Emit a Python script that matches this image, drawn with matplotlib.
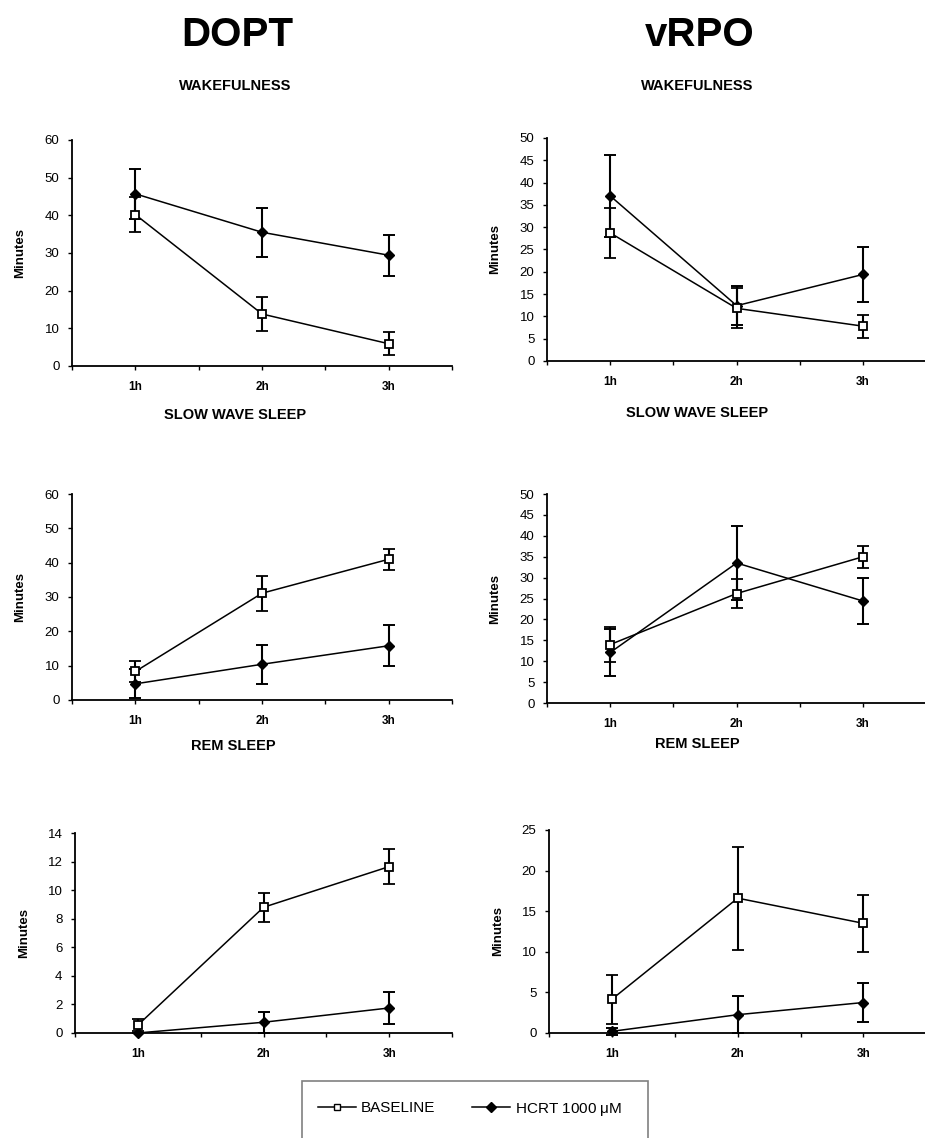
import numpy as np
import matplotlib
matplotlib.use('Agg')
import matplotlib.pyplot as plt
from matplotlib.lines import Line2D
from matplotlib.patches import Rectangle

plt.rcParams['font.family'] = ['Liberation Sans', 'DejaVu Sans']

hours = ['1h', '2h', '3h']

# DOPT
dopt_wake_base = [40.2, 13.8, 5.9]
dopt_wake_base_err = [4.7, 4.6, 3.1]
dopt_wake_hcrt = [45.7, 35.5, 29.4]
dopt_wake_hcrt_err = [6.6, 6.5, 5.4]

dopt_sws_base = [8.3, 31.1, 41.0]
dopt_sws_base_err = [3.1, 5.1, 3.0]
dopt_sws_hcrt = [4.7, 10.4, 15.8]
dopt_sws_hcrt_err = [4.2, 5.7, 6.0]

dopt_rem_base = [0.55, 8.8, 11.65]
dopt_rem_base_err = [0.4, 1.0, 1.25]
dopt_rem_hcrt = [0.0, 0.75, 1.75]
dopt_rem_hcrt_err = [0.0, 0.75, 1.12]

# vRPO
vrpo_wake_base = [28.7, 11.8, 7.8]
vrpo_wake_base_err = [5.7, 4.5, 2.6]
vrpo_wake_hcrt = [37.0, 12.4, 19.4]
vrpo_wake_hcrt_err = [9.1, 4.3, 6.1]

vrpo_sws_base = [14.0, 26.2, 35.0]
vrpo_sws_base_err = [4.1, 3.5, 2.6]
vrpo_sws_hcrt = [12.1, 33.5, 24.4]
vrpo_sws_hcrt_err = [5.7, 8.8, 5.6]

vrpo_rem_base = [4.15, 16.6, 13.5]
vrpo_rem_base_err = [3.0, 6.35, 3.5]
vrpo_rem_hcrt = [0.2, 2.25, 3.75]
vrpo_rem_hcrt_err = [0.45, 2.25, 2.4]

fig = plt.figure(figsize=(9.25, 11.38), dpi=100)

x = np.arange(1, len(hours) + 1)


def panel(rect, base, base_err, hcrt, hcrt_err, ymax, ystep):
    ax = fig.add_axes(rect)
    ax.errorbar(x, hcrt, yerr=hcrt_err, color='black', lw=1.1, elinewidth=1.5,
                capsize=4.5, capthick=1.4, marker='D', ms=5.5, mfc='black',
                mec='black', clip_on=False, zorder=3)
    ax.errorbar(x, base, yerr=base_err, color='black', lw=1.1, elinewidth=1.5,
                capsize=4.5, capthick=1.4, marker='s', ms=6, mfc='white',
                mec='black', mew=1.3, clip_on=False, zorder=4)
    ax.set_xlim(0.5, 3.5)
    ax.set_ylim(0, ymax)
    ax.set_yticks(np.arange(0, ymax + ystep / 2, ystep))
    ax.set_xticks(np.arange(0.5, 3.6, 0.5))
    ax.set_xticklabels(['', hours[0], '', hours[1], '', hours[2], ''],
                       fontsize=8.5, fontweight='bold')
    ax.tick_params(axis='y', labelsize=9.5, length=3, width=1, pad=6)
    ax.tick_params(axis='x', length=3, width=1, pad=8)
    for s in ['top', 'right']:
        ax.spines[s].set_visible(False)
    for s in ['left', 'bottom']:
        ax.spines[s].set_linewidth(1.3)
    ax.set_ylabel('Minutes', fontsize=9.5, fontweight='bold')
    ax.yaxis.set_label_coords(-0.12, 0.5)
    return ax


panel([0.0778, 0.6784, 0.411, 0.1986], dopt_wake_base, dopt_wake_base_err,
      dopt_wake_hcrt, dopt_wake_hcrt_err, 60, 10)
panel([0.5914, 0.6828, 0.41, 0.196], vrpo_wake_base, vrpo_wake_base_err,
      vrpo_wake_hcrt, vrpo_wake_hcrt_err, 50, 5)
panel([0.0778, 0.3849, 0.411, 0.1810], dopt_sws_base, dopt_sws_base_err,
      dopt_sws_hcrt, dopt_sws_hcrt_err, 60, 10)
panel([0.5914, 0.3822, 0.41, 0.1837], vrpo_sws_base, vrpo_sws_base_err,
      vrpo_sws_hcrt, vrpo_sws_hcrt_err, 50, 5)
panel([0.0811, 0.0923, 0.4076, 0.1757], dopt_rem_base, dopt_rem_base_err,
      dopt_rem_hcrt, dopt_rem_hcrt_err, 14, 2)
panel([0.5935, 0.0923, 0.408, 0.1784], vrpo_rem_base, vrpo_rem_base_err,
      vrpo_rem_hcrt, vrpo_rem_hcrt_err, 25, 5)

W, H = 925.0, 1138.0
big = dict(fontsize=29, fontweight='bold', ha='center', va='center')
fig.text(237 / W, 1 - 35 / H, 'DOPT', **big)
fig.text(700 / W, 1 - 35 / H, 'vRPO', **big)

sub = dict(fontsize=10.5, fontweight='bold', ha='center', va='center')
fig.text(235 / W, 1 - 86 / H, 'WAKEFULNESS', **sub)
fig.text(697 / W, 1 - 86 / H, 'WAKEFULNESS', **sub)
fig.text(235 / W, 1 - 415 / H, 'SLOW WAVE SLEEP', **sub)
fig.text(697 / W, 1 - 413 / H, 'SLOW WAVE SLEEP', **sub)
fig.text(233 / W, 1 - 746 / H, 'REM SLEEP', **sub)
fig.text(697 / W, 1 - 744 / H, 'REM SLEEP', **sub)

# legend box
fig.patches.append(Rectangle((302 / W, -0.01), (648 - 302) / W, 0.01 + 1 - 1081 / H,
                             transform=fig.transFigure, fill=False,
                             edgecolor='#808080', lw=1.2))
handles = [
    Line2D([], [], color='black', lw=1.1, marker='s', ms=5, mfc='white', mec='black'),
    Line2D([], [], color='black', lw=1.1, marker='D', ms=5, mfc='black', mec='black'),
]
fig.legend(handles, ['BASELINE', 'HCRT 1000 $\\mathregular{\\mu}$M'],
           loc='center left', bbox_to_anchor=(318 / W, 1 - 1109 / H),
           ncol=2, frameon=False, fontsize=11, handlelength=2.5,
           handletextpad=0.3, columnspacing=2.4, borderpad=0, borderaxespad=0)

fig.savefig('out.png', dpi=100, facecolor='white')
